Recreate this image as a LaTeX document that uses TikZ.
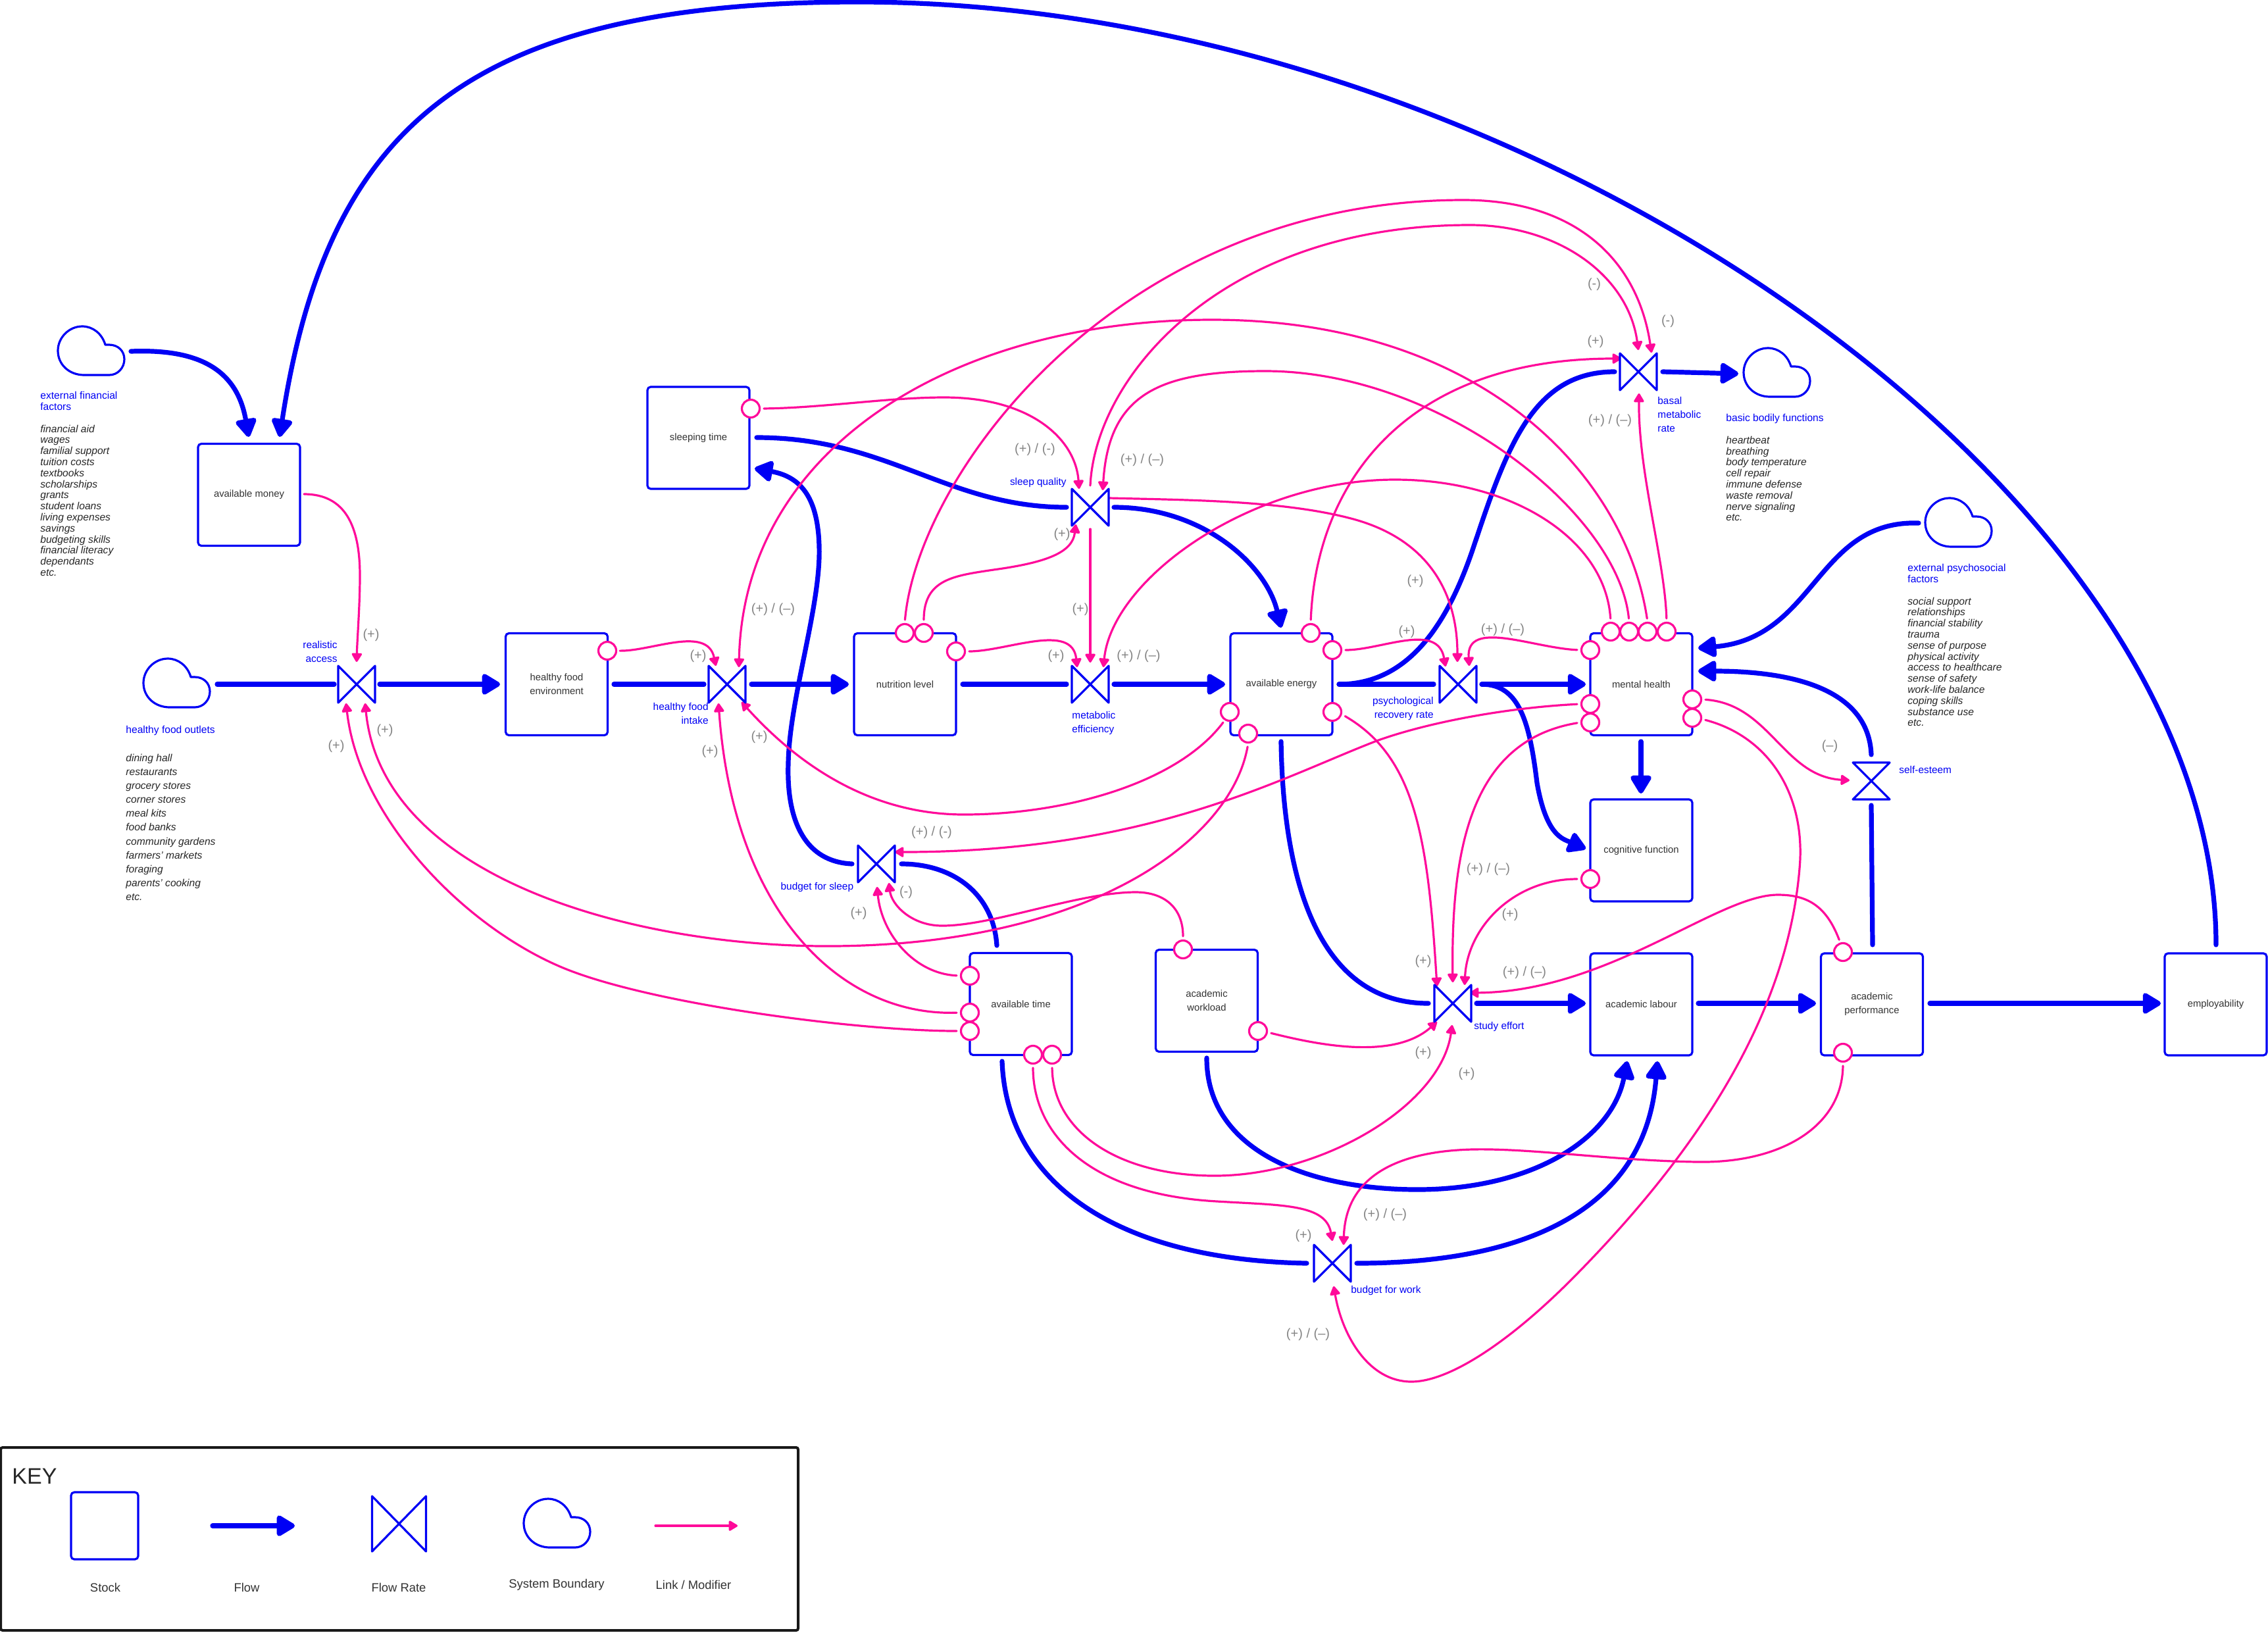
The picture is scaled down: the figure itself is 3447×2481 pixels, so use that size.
\documentclass[tikz,border=0pt]{standalone}
\usepackage{fontspec}
\setmainfont{Liberation Sans}
\usetikzlibrary{arrows.meta}
\definecolor{fblue}{HTML}{0000F5}
\definecolor{lpink}{HTML}{FF0A9A}
\definecolor{sgray}{HTML}{858585}
\definecolor{tdark}{HTML}{333333}
\tikzset{
  stock/.style={draw=fblue,line width=1.6pt,rounded corners=2.5pt,fill=white,inner sep=0pt,minimum width=77.5pt,minimum height=77.5pt,align=center,text=tdark,font=\fontsize{7.4}{10.5}\selectfont},
  vnode/.style={inner sep=0pt,minimum size=28pt},
  vline/.style={draw=fblue,line width=1.6pt,line join=round,fill=white},
  cloudline/.style={draw=fblue,line width=1.6pt,line join=round},
  flowtip/.style={-{Triangle[round,length=15.5pt,width=17.5pt]}},
  flowline/.style={draw=fblue,line width=3.6pt,line cap=round},
  flow/.style={flowline,flowtip},
  link/.style={draw=lpink,line width=1.6pt,line cap=round,-{Triangle[round,length=7.5pt,width=8.5pt]},shorten <=2.5pt},
  modif/.style={circle,draw=lpink,line width=1.6pt,fill=white,inner sep=0pt,minimum size=13.5pt},
  sign/.style={text=sgray,inner sep=0pt,font=\fontsize{10}{12}\selectfont},
  flabel/.style={text=fblue,inner sep=0pt,font=\fontsize{7.7}{10.5}\selectfont},
  listtext/.style={anchor=north west,inner sep=0pt,align=left,text=black!85},
  keytext/.style={inner sep=0pt,text=tdark,font=\fontsize{9.2}{11}\selectfont},
}
\begin{document}
\begin{tikzpicture}[x=0.5pt,y=-0.5pt]
\useasboundingbox (0,0) rectangle (3447,2481);
\fill[white] (0,0) rectangle (3447,2481);

% ---- stocks
\node[stock] (money) at (378.5,752) {available money};
\node[stock] (hfe) at (846,1040) {healthy food\\environment};
\node[stock] (nutr) at (1375.5,1040) {nutrition level};
\node[stock] (sleep) at (1061.5,665.5) {sleeping time};
\node[stock] (energy) at (1947.5,1040) {available energy};
\node[stock] (mental) at (2494.5,1040) {mental health};
\node[stock] (cogn) at (2494.5,1292.5) {cognitive function};
\node[stock] (labour) at (2494.5,1526.5) {academic labour};
\node[stock] (perf) at (2845,1526.5) {academic\\performance};
\node[stock] (employ) at (3367.5,1526.5) {employability};
\node[stock] (time) at (1551.5,1526) {available time};
\node[stock] (work) at (1834,1521) {academic\\workload};

% ---- boundary clouds
\foreach \n/\x/\y in {cfin/88/496,chf/218/1001,cbod/2650/529,cpsy/2926/757,ckey/796/2278}{
  \node[inner sep=0pt,minimum width=50.5pt,minimum height=37pt] (\n) at (\x+50.5,\y+37) {};
  \begin{scope}[shift={(\x,\y)}]
    \draw[cloudline] (40,74) -- (78,74) .. controls (91,74) and (101,63) .. (101,50) .. controls (101,37) and (91,28) .. (78,28) -- (72,28) .. controls (67,11) and (53,0) .. (37,0) .. controls (17,0) and (0,17) .. (0,37) .. controls (0,58) and (17,74) .. (40,74) -- cycle;
  \end{scope}
}

% ---- ports: free ends of connectors
\foreach \n/\x/\y in {
 finS/199/534, moneyA/378/664, empS/3368/1436, moneyB/425/664,
 hfoS/330/1040, raW/508/1040, raE/577/1040, hfeW/760/1040, hfeE/933/1040, hfiW/1070/1040,
 hfiE/1142/1040, nutrW/1290/1040, nutrE/1463/1040, meW/1621/1040, meE/1693/1040, enW/1862/1040,
 enE/2035/1040, prW/2179/1040, baW/2454/565, baE/2527/565, cbodW/2642/568,
 prE/2252/1040, menW/2410/1040, cogW/2410/1290, menS/2494/1127, cogN/2494/1206,
 enS/1947/1127, seW/2171/1525, seE/2244/1525, labW/2410/1525, labE/2581/1525, perW/2760/1525,
 perE/2933/1525, empW/3284/1525, perN/2846/1436, esS/2844/1224, esN/2844/1147, menE2/2581/1020,
 cpsyW/2916/795, menE1/2581/985, wrkS/1834/1608, labS1/2473/1613, bwE/2062/1920, labS2/2519/1613,
 timS/1523/1613, bwW/1986/1920, timN/1515/1437, bsE/1370/1313, bsW/1295/1313, slE2/1147/712,
 sqW/1621/771, slE1/1150/665, sqE/1693/771, enN/1947/954,
 moneyOut/462/751, raN/542/1006, hfiNa/1088/1012, hfiSb/1127/1067, bsSa/1333/1348, bsSb/1351/1342,
 hfiSa/1092/1069, raSa/526/1069, raSb/555/1069, bsNE/1360/1295, seNa/2208/1493, seNb/2184/1499,
 seNc/2226/1497, seEu/2234/1509, seWl/2184/1553, seS/2207/1558, bwNa/2025/1886, bwNb/2042/1892,
 bwS/2027/1955, esW/2811/1186, prNa/2233/1012, prNb/2197/1013, sqOut/1686/757, prNc/2215/1006,
 baWu/2464/545, baS/2491/598, meNr/1677/1014, sqNr/1676/745, hfiNb/1123/1014, baNa/2510/536,
 sqTop/1657/738, baNb/2490/532, sqNl/1640/743, sqS/1635/797, meNl/1637/1014, sqB/1657/804, meN/1657/1007%
}{\coordinate (\n) at (\x,\y);}

% ---- flows
\draw[flow] (finS) .. controls (300,530) and (360,560) .. (moneyA);
\draw[flow] (empS) .. controls (3368,736) and (2304,3) .. (1304,3) .. controls (708,3) and (497,195) .. (moneyB);
\draw[flowline] (hfoS) -- (raW);
\draw[flow] (raE) -- (hfeW);
\draw[flowline] (hfeE) -- (hfiW);
\draw[flow] (hfiE) -- (nutrW);
\draw[flowline] (nutrE) -- (meW);
\draw[flow] (meE) -- (enW);
\draw[flowline] (enE) -- (prW);
\draw[flowline] (enE) .. controls (2140,1040) and (2200,950) .. (2240,830) .. controls (2290,680) and (2330,565) .. (baW);
\draw[flow] (baE) -- (cbodW);
\draw[flow] (prE) -- (menW);
\draw[flow] (prE) .. controls (2310,1040) and (2325,1100) .. (2336,1190) .. controls (2350,1270) and (2375,1275) .. (cogW);
\draw[flow] (menS) -- (cogN);
\draw[flowline] (enS) .. controls (1950,1330) and (2000,1525) .. (seW);
\draw[flow] (seE) -- (labW);
\draw[flow] (labE) -- (perW);
\draw[flow] (perE) -- (empW);
\draw[flowline] (perN) -- (esS);
\draw[flow] (esN) .. controls (2840,1050) and (2730,1020) .. (menE2);
\draw[flow] (cpsyW) .. controls (2760,790) and (2760,970) .. (menE1);
\draw[flow] (wrkS) .. controls (1834,1750) and (1990,1808) .. (2154,1808) .. controls (2330,1808) and (2450,1730) .. (labS1);
\draw[flow] (bwE) .. controls (2300,1920) and (2500,1850) .. (labS2);
\draw[flowline] (timS) .. controls (1530,1800) and (1700,1915) .. (bwW);
\draw[flowline] (timN) .. controls (1510,1360) and (1450,1313) .. (bsE);
\draw[flow] (bsW) .. controls (1225,1310) and (1195,1250) .. (1198,1160) .. controls (1200,1060) and (1248,920) .. (1245,830) .. controls (1243,760) and (1220,725) .. (slE2);
\draw[flowline] (sqW) .. controls (1440,771) and (1350,665) .. (slE1);
\draw[flow] (sqE) .. controls (1830,771) and (1925,860) .. (enN);

% ---- modifier circles: centres
\foreach \n/\x/\y in {
 mhfe/923/989, mnu1/1375/962, mnu2/1404/962, mnu3/1453/990, msl/1141/621,
 men1/1992/962, men2/2025/988, men3/1869/1082, men4/1897/1115, men5/2025/1082,
 mme1/2448/960, mme2/2476/960, mme3/2504/960, mme4/2533/960, mme5/2417/988, mme6/2417/1070, mme7/2417/1098, mme8/2572/1063, mme9/2572/1091,
 mcog/2417/1336, mti1/1474/1483, mti2/1474/1539, mti3/1474/1567, mti4/1570/1603, mti5/1599/1603,
 mwk1/1798/1443, mwk2/1912/1567, mpe1/2801/1447, mpe2/2801/1600}{
  \coordinate (\n c) at (\x,\y);
}

% ---- links
\draw[link,shorten <=0pt] (moneyOut) .. controls (525,751) and (547,800) .. (547,875) .. controls (547,920) and (543,970) .. (raN);
\draw[link] (mhfec) ++(14,0) .. controls (990,990) and (1075,950) .. (hfiNa);
\draw[link] (men3c) ++(-7,12) .. controls (1790,1190) and (1620,1238) .. (1465,1238) .. controls (1330,1238) and (1220,1170) .. (hfiSb);
\draw[link] (mti1c) ++(-15,0) .. controls (1390,1480) and (1340,1420) .. (bsSa);
\draw[link] (mwk1c) ++(0,-15) .. controls (1798,1380) and (1770,1356) .. (1726,1356) .. controls (1640,1356) and (1510,1407) .. (1432,1407) .. controls (1385,1407) and (1355,1375) .. (bsSb);
\draw[link] (mti2c) ++(-15,0) .. controls (1280,1545) and (1115,1390) .. (hfiSa);
\draw[link] (mti3c) ++(-15,0) .. controls (1300,1567) and (981,1525) .. (851,1469) .. controls (700,1404) and (545,1240) .. (raSa);
\draw[link] (men4c) ++(0,15) .. controls (1870,1280) and (1650,1440) .. (1250,1438) .. controls (950,1436) and (580,1330) .. (raSb);
\draw[link] (mme6c) ++(-15,0) .. controls (2300,1075) and (2180,1095) .. (2095,1125) .. controls (1950,1180) and (1750,1295) .. (bsNE);
\draw[link] (mme7c) ++(-15,0) .. controls (2240,1125) and (2205,1280) .. (seNa);
\draw[link] (men5c) ++(15,4) .. controls (2150,1150) and (2170,1270) .. (seNb);
\draw[link] (mcogc) ++(-15,0) .. controls (2300,1336) and (2230,1410) .. (seNc);
\draw[link] (mpe1c) ++(-4,-14) .. controls (2775,1375) and (2745,1360) .. (2702,1360) .. controls (2610,1360) and (2445,1507) .. (seEu);
\draw[link] (mwk2c) ++(15,2) .. controls (2010,1590) and (2120,1610) .. (seWl);
\draw[link] (mti5c) ++(0,15) .. controls (1600,1720) and (1700,1787) .. (1846,1787) .. controls (2010,1787) and (2190,1680) .. (seS);
\draw[link] (mti4c) ++(0,15) .. controls (1570,1720) and (1650,1815) .. (1850,1826) .. controls (1950,1832) and (2015,1830) .. (bwNa);
\draw[link] (mpe2c) ++(0,15) .. controls (2800,1710) and (2710,1768) .. (2580,1766) .. controls (2450,1764) and (2330,1745) .. (2237,1747) .. controls (2120,1750) and (2045,1790) .. (bwNb);
\draw[link] (mme9c) ++(15,2) .. controls (2690,1120) and (2745,1210) .. (2735,1320) .. controls (2715,1560) and (2560,1770) .. (2396,1937) .. controls (2300,2035) and (2205,2100) .. (2145,2100) .. controls (2080,2100) and (2040,2030) .. (bwS);
\draw[link] (mme8c) ++(15,0) .. controls (2690,1070) and (2710,1180) .. (esW);
\draw[link] (mme5c) ++(-15,0) .. controls (2330,985) and (2228,940) .. (prNa);
\draw[link] (men2c) ++(15,0) .. controls (2100,988) and (2185,945) .. (prNb);
\draw[link,shorten <=0pt] (sqOut) .. controls (1800,760) and (1950,760) .. (2057,789) .. controls (2170,820) and (2215,900) .. (prNc);
\draw[link] (men1c) ++(0,-15) .. controls (2000,740) and (2130,545) .. (baWu);
\draw[link] (mme4c) ++(0,-15) .. controls (2530,850) and (2490,720) .. (baS);
\draw[link] (mme1c) ++(0,-15) .. controls (2440,820) and (2300,729) .. (2120,729) .. controls (1900,729) and (1690,880) .. (meNr);
\draw[link] (mme2c) ++(0,-15) .. controls (2460,780) and (2190,564) .. (1923,564) .. controls (1760,564) and (1685,600) .. (sqNr);
\draw[link] (mme3c) ++(0,-15) .. controls (2470,720) and (2250,486) .. (1842,486) .. controls (1450,486) and (1130,680) .. (hfiNb);
\draw[link] (mnu1c) ++(0,-15) .. controls (1395,720) and (1700,304) .. (2224,304) .. controls (2400,304) and (2490,400) .. (baNa);
\draw[link,shorten <=0pt] (sqTop) .. controls (1665,570) and (1860,342) .. (2234,342) .. controls (2370,342) and (2475,420) .. (baNb);
\draw[link] (mslc) ++(15,0) .. controls (1250,620) and (1350,604) .. (1435,604) .. controls (1570,604) and (1635,670) .. (sqNl);
\draw[link] (mnu2c) ++(0,-15) .. controls (1404,880) and (1450,875) .. (1510,866) .. controls (1590,855) and (1630,840) .. (sqS);
\draw[link] (mnu3c) ++(15,0) .. controls (1530,990) and (1630,945) .. (meNl);
\draw[link,shorten <=0pt] (sqB) -- (meN);

\foreach \n in {mhfe,mnu1,mnu2,mnu3,msl,men1,men2,men3,men4,men5,mme1,mme2,mme3,mme4,mme5,mme6,mme7,mme8,mme9,mcog,mti1,mti2,mti3,mti4,mti5,mwk1,mwk2,mpe1,mpe2}{
  \node[modif] (\n) at (\n c) {};
}

% ---- flow rates
\foreach \n/\x/\y in {ra/542/1040,hfi/1105/1040,me/1657/1040,sq/1657/771,pr/2216/1040,ba/2490/565,se/2208/1525,bs/1332/1313,bw/2025/1920}{
  \node[vnode] (\n) at (\x,\y) {};
  \draw[vline] ([shift={(-28,-28)}]\n.center) -- ([shift={(28,28)}]\n.center) -- ([shift={(28,-28)}]\n.center) -- ([shift={(-28,28)}]\n.center) -- cycle;
}
\node[vnode] (es) at (2844,1187) {};
\draw[vline] ([shift={(-28,-28)}]es.center) -- ([shift={(28,28)}]es.center) -- ([shift={(-28,28)}]es.center) -- ([shift={(28,-28)}]es.center) -- cycle;

% ---- flow rate labels
\node[flabel,anchor=east,align=right] (lra) at (513,990.5) {realistic\\access};
\node[flabel,anchor=east,align=right] (lhfi) at (1077,1084.5) {healthy food\\intake};
\node[flabel,anchor=west,align=left] (lme) at (1629,1098.5) {metabolic\\efficiency};
\node[flabel,anchor=east] (lsq) at (1621,734) {sleep quality};
\node[flabel,anchor=east,align=right] (lpr) at (2179,1077) {psychological\\recovery rate};
\node[flabel,anchor=west,align=left] (lba) at (2519,630) {basal\\metabolic\\rate};
\node[flabel,anchor=west] (lse) at (2240,1560) {study effort};
\node[flabel,anchor=east] (lbs) at (1297.5,1348) {budget for sleep};
\node[flabel,anchor=west] (lbw) at (2053,1961) {budget for work};
\node[flabel,anchor=west] (les) at (2886,1170) {self-esteem};

% ---- lists beside the clouds
\node[listtext,font=\fontsize{7.8}{8.4}\selectfont] (tfin) at (61,595) {\textcolor{fblue}{external financial}\\\textcolor{fblue}{factors}\\~\\\itshape financial aid\\\itshape wages\\\itshape familial support\\\itshape tuition costs\\\itshape textbooks\\\itshape scholarships\\\itshape grants\\\itshape student loans\\\itshape living expenses\\\itshape savings\\\itshape budgeting skills\\\itshape financial literacy\\\itshape dependants\\\itshape etc.};
\node[listtext,font=\fontsize{7.8}{10.58}\selectfont] (thf) at (191,1103) {\textcolor{fblue}{healthy food outlets}\\~\\\itshape dining hall\\\itshape restaurants\\\itshape grocery stores\\\itshape corner stores\\\itshape meal kits\\\itshape food banks\\\itshape community gardens\\\itshape farmers’ markets\\\itshape foraging\\\itshape parents’ cooking\\\itshape etc.};
\node[listtext,font=\fontsize{7.8}{8.4}\selectfont] (tbod) at (2623,629) {\textcolor{fblue}{basic bodily functions}\\~\\\itshape heartbeat\\\itshape breathing\\\itshape body temperature\\\itshape cell repair\\\itshape immune defense\\\itshape waste removal\\\itshape nerve signaling\\\itshape etc.};
\node[listtext,font=\fontsize{7.8}{8.4}\selectfont] (tpsy) at (2899,857) {\textcolor{fblue}{external psychosocial}\\\textcolor{fblue}{factors}\\~\\\itshape social support\\\itshape relationships\\\itshape financial stability\\\itshape trauma\\\itshape sense of purpose\\\itshape physical activity\\\itshape access to healthcare\\\itshape sense of safety\\\itshape work-life balance\\\itshape coping skills\\\itshape substance use\\\itshape etc.};

% ---- polarity signs
\foreach \x/\y [count=\i] in {564/965,585/1110,511/1134.5,1061/997,1154/1120.5,1079/1142,1605/997,1642/926,1614/812.5,2138/960,2151/883,2425/519,2295/1390,2163/1461,2163/1600,2229/1632,1305/1388,1981/1878}{
  \node[sign] (sp\i) at (\x,\y) {(+)};
}
\foreach \x/\y [count=\i] in {2423/432,2535/488,1377/1356}{
  \node[sign] (sm\i) at (\x,\y) {(-)};
}
\node[sign] (sm4) at (2781,1134) {(–)};
\foreach \x/\y [count=\i] in {1175/926,1730.5/997,1736/699.5,2284/957,2447/639,2262/1321,2317/1478,2105/1846,1988/2028}{
  \node[sign] (spm\i) at (\x,\y) {(+) / (–)};
}
\foreach \x/\y [count=\i] in {1573/683,1416/1265}{
  \node[sign] (sph\i) at (\x,\y) {(+) / (-)};
}

% ---- key
\node[draw=black!90,line width=2pt,rounded corners=1.5pt,inner sep=0pt,minimum width=606pt,minimum height=139pt] (keybox) at (607,2339) {};
\node[anchor=west,inner sep=0pt,text=black!85,font=\fontsize{17}{20}\selectfont] (keytitle) at (18,2244) {KEY};
\node[stock,minimum width=51pt,minimum height=51pt] (kstock) at (159,2319) {};
\coordinate (kfs) at (323,2319);
\coordinate (kfe) at (448,2319);
\draw[flow] (kfs) -- (kfe);
\node[vnode] (kvalve) at (606.5,2316) {};
\draw[vline] ([shift={(-41,-42)}]kvalve.center) -- ([shift={(41,42)}]kvalve.center) -- ([shift={(41,-42)}]kvalve.center) -- ([shift={(-41,42)}]kvalve.center) -- cycle;
\coordinate (kls) at (996,2319);
\coordinate (kle) at (1121,2319);
\draw[link,shorten <=0pt] (kls) -- (kle);
\node[keytext] (k1) at (160,2413) {Stock};
\node[keytext] (k2) at (375,2413) {Flow};
\node[keytext] (k3) at (606,2413) {Flow Rate};
\node[keytext] (k4) at (846,2409) {System Boundary};
\node[keytext] (k5) at (1054,2409) {Link / Modifier};
\end{tikzpicture}
\end{document}
